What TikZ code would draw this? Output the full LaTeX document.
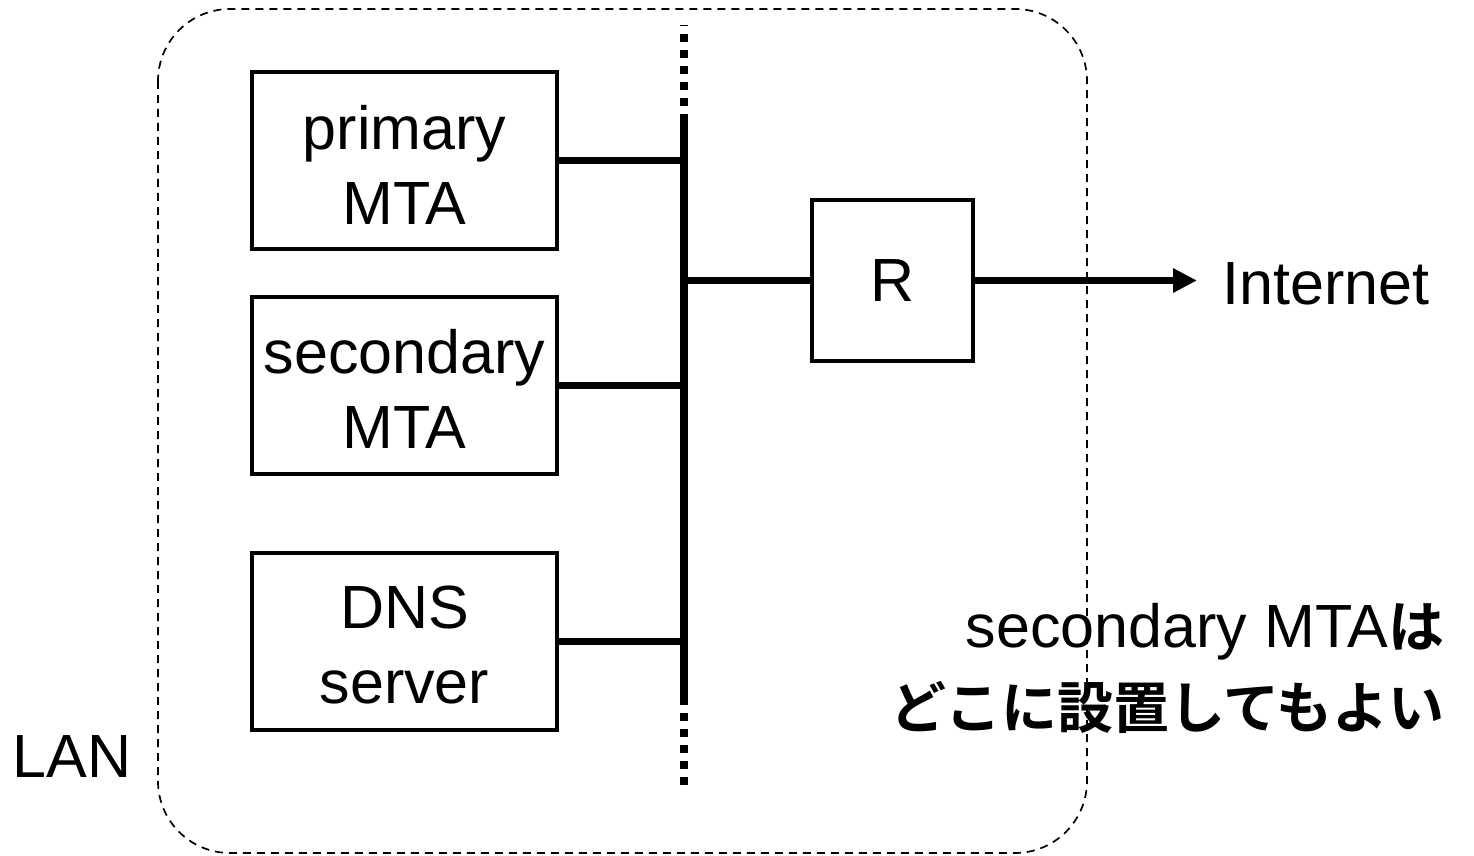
\documentclass[tikz,border=0pt]{standalone}
\usepackage{fontspec}
\setmainfont{Liberation Sans}
\newfontfamily\cjk{Noto Sans CJK JP}[BoldFont=* Bold]
\usetikzlibrary{arrows.meta}
\tikzset{
  lbl/.style={font=\fontsize{30.5}{37.5}\selectfont, inner sep=0pt},
  hostbox/.style={draw, line width=2pt, minimum width=152.5pt, minimum height=88.5pt, inner sep=0pt},
  boxtext/.style={align=center, font=\fontsize{30.5}{37.5}\selectfont, inner sep=0pt},
  link/.style={line width=3.5pt},
  bus/.style={line width=4pt},
  busdots/.style={line width=4pt, dash pattern=on 4pt off 4pt},
  lanedge/.style={line width=0.85pt, dash pattern=on 4pt off 3pt, rounded corners=36pt},
}
\begin{document}
\begin{tikzpicture}[x=0.5pt, y=-0.5pt]
  \useasboundingbox (0,0) rectangle (1474,856);

  % LAN boundary
  \draw[lanedge] (158,9) rectangle (1087,853);

  % LAN backbone
  \coordinate (bt) at (684,122);
  \coordinate (bb) at (684,697);
  \coordinate (btop) at (684,25);
  \coordinate (bbot) at (684,786);
  \draw[bus] (bt) -- (bb);
  \draw[busdots] (bt) -- (btop);
  \draw[busdots] (bb) -- (bbot);

  % hosts
  \node[hostbox] (prim) at (404.5,160.5) {};
  \node[hostbox] (sec)  at (404.5,385)   {};
  \node[hostbox] (dns)  at (404.5,641)   {};
  \node[boxtext] (primt) at ([yshift=-2pt]prim.center) {primary\\MTA};
  \node[boxtext] (sect)  at ([yshift=-2pt]sec.center)  {secondary\\MTA};
  \node[boxtext] (dnst)  at ([yshift=-2pt]dns.center)  {DNS\\server};
  \node[hostbox, minimum width=80.5pt, minimum height=80.5pt,
        font=\fontsize{30.5}{37.5}\selectfont] (R) at (892.5,280.5) {R};

  \draw[link] (prim.east) -- (prim.east -| bt);
  \draw[link] (sec.east)  -- (sec.east -| bt);
  \draw[link] (dns.east)  -- (dns.east -| bt);
  \draw[link] (R.west)    -- (R.west -| bt);

  % uplink
  \node[lbl, anchor=west] (inet) at (1222,284) {Internet};
  \draw[link, -{Triangle[length=12pt, width=11.5pt]}, shorten >=12.5pt]
    (R.east) -- (R.east -| inet.west);

  % labels
  \node[lbl, anchor=west] (lan) at (12,757) {LAN};
  \node[anchor=east, align=right, inner sep=0pt,
        font=\fontsize{30.5}{40.5}\selectfont] (note) at (1445,668)
    {secondary MTA{\cjk\bfseries\fontsize{28}{40.5}\selectfont は}\\
     {\cjk\bfseries\fontsize{28}{40.5}\selectfont どこに設置してもよい}};
\end{tikzpicture}
\end{document}
